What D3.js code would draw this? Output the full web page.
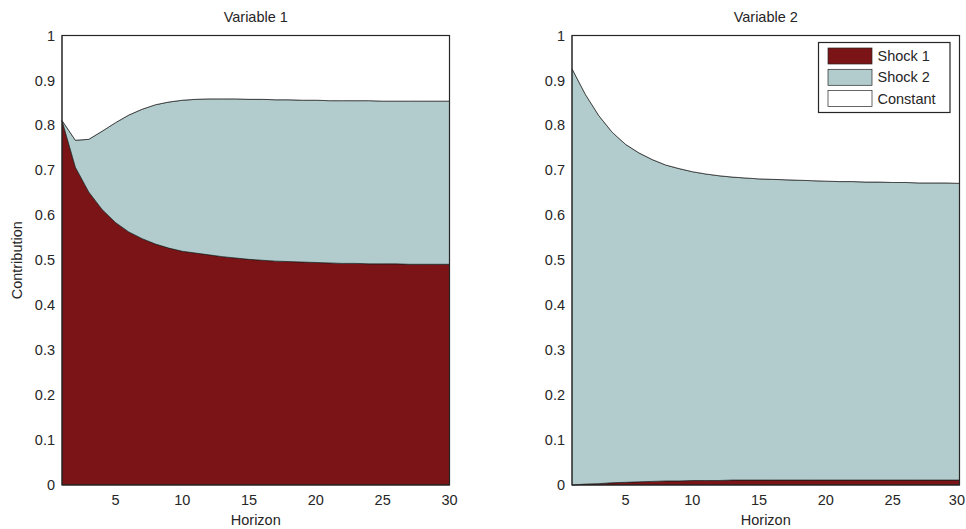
<!DOCTYPE html>
<html>
<head>
<meta charset="utf-8">
<script src="https://cdn.jsdelivr.net/npm/d3@7"></script>
<style>
  body { margin: 0; background: #fff; }
  text { font-family: "Liberation Sans", Arial, sans-serif; fill: #262626; font-size: 14.5px; }
</style>
</head>
<body>
<svg id="chart" width="966" height="529"></svg>
<script>
// horizons 1..30
var horizon = d3.range(1, 31);

// Variable 1 contributions
var v1_shock1 = [0.811, 0.707, 0.652, 0.613, 0.584, 0.563, 0.548, 0.536, 0.527, 0.520,
                 0.516, 0.512, 0.508, 0.505, 0.502, 0.500, 0.498, 0.497, 0.496, 0.495,
                 0.494, 0.493, 0.493, 0.492, 0.492, 0.492, 0.491, 0.491, 0.491, 0.491];
var v1_shock2 = [0.000, 0.060, 0.117, 0.174, 0.222, 0.260, 0.288, 0.310, 0.325, 0.336,
                 0.342, 0.347, 0.351, 0.354, 0.356, 0.358, 0.359, 0.360, 0.360, 0.361,
                 0.361, 0.362, 0.362, 0.363, 0.362, 0.362, 0.363, 0.363, 0.363, 0.363];
var v1_const  = [0.189, 0.233, 0.231, 0.213, 0.194, 0.177, 0.164, 0.154, 0.148, 0.144,
                 0.142, 0.141, 0.141, 0.141, 0.142, 0.142, 0.143, 0.143, 0.144, 0.144,
                 0.145, 0.145, 0.145, 0.145, 0.146, 0.146, 0.146, 0.146, 0.146, 0.146];

// Variable 2 contributions
var v2_shock1 = [0.000, 0.002, 0.003, 0.005, 0.006, 0.007, 0.008, 0.009, 0.009, 0.010,
                 0.010, 0.010, 0.011, 0.011, 0.011, 0.011, 0.011, 0.011, 0.011, 0.011,
                 0.011, 0.011, 0.011, 0.011, 0.011, 0.011, 0.011, 0.011, 0.011, 0.011];
var v2_shock2 = [0.926, 0.867, 0.819, 0.780, 0.752, 0.732, 0.716, 0.703, 0.695, 0.687,
                 0.682, 0.678, 0.674, 0.672, 0.670, 0.669, 0.668, 0.667, 0.666, 0.665,
                 0.664, 0.664, 0.663, 0.663, 0.662, 0.662, 0.661, 0.661, 0.661, 0.660];
var v2_const  = [0.074, 0.131, 0.178, 0.215, 0.242, 0.261, 0.276, 0.288, 0.296, 0.303,
                 0.308, 0.312, 0.315, 0.317, 0.319, 0.320, 0.321, 0.322, 0.323, 0.324,
                 0.325, 0.325, 0.326, 0.326, 0.327, 0.327, 0.328, 0.328, 0.328, 0.329];

var seriesNames = ["Shock 1", "Shock 2", "Constant"];
var colors = ["#7b1416", "#b2cccd", "#ffffff"];
var yTicks = [0, 0.1, 0.2, 0.3, 0.4, 0.5, 0.6, 0.7, 0.8, 0.9, 1];
var xTicks = [5, 10, 15, 20, 25, 30];

var panels = [
  { title: "Variable 1", left: 62, series: [v1_shock1, v1_shock2, v1_const], ylabel: true, legend: false },
  { title: "Variable 2", left: 572, series: [v2_shock1, v2_shock2, v2_const], ylabel: false, legend: true }
];

var marginTop = 35.5, height = 449.5, width = 387.5;
var svgWidth = 966;
var svg = d3.select("#chart");

panels.forEach(function (p) {
  var g = svg.append("g").attr("transform", "translate(" + p.left + "," + marginTop + ")");

  var x = d3.scaleLinear().domain([1, 30]).range([0, width]);
  var y = d3.scaleLinear().domain([0, 1]).range([height, 0]);

  // build table for stacking
  var table = horizon.map(function (h, i) {
    var row = { h: h };
    seriesNames.forEach(function (s, k) { row[s] = p.series[k][i]; });
    return row;
  });
  var stacked = d3.stack().keys(seriesNames)(table);

  var area = d3.area()
    .x(function (d) { return x(d.data.h); })
    .y0(function (d) { return y(d[0]); })
    .y1(function (d) { return y(d[1]); });

  g.selectAll("path.layer")
    .data(stacked)
    .enter()
    .append("path")
    .attr("class", "layer")
    .attr("d", area)
    .attr("fill", function (d, i) { return colors[i]; })
    .attr("stroke", "#1a1a1a")
    .attr("stroke-width", 0.7)
    .attr("stroke-linejoin", "round");

  // axes box
  g.append("rect")
    .attr("width", width).attr("height", height)
    .attr("fill", "none")
    .attr("stroke", "#262626")
    .attr("stroke-width", 1.2);

  // y tick labels
  g.selectAll("text.ytick")
    .data(yTicks)
    .enter()
    .append("text")
    .attr("class", "ytick")
    .attr("x", -7)
    .attr("y", function (d) { return y(d); })
    .attr("dy", "0.35em")
    .attr("text-anchor", "end")
    .text(function (d) { return d3.format("~g")(d); });

  // x tick labels
  g.selectAll("text.xtick")
    .data(xTicks)
    .enter()
    .append("text")
    .attr("class", "xtick")
    .attr("x", function (d) { return x(d); })
    .attr("y", height + 15)
    .attr("dy", "0.35em")
    .attr("text-anchor", "middle")
    .text(function (d) { return d; })
    .each(function (d) {
      // keep the last label inside the page
      var half = this.getComputedTextLength() / 2;
      var maxX = svgWidth - 1 - p.left - half;
      if (x(d) > maxX) d3.select(this).attr("x", maxX);
    });

  g.append("text")
    .attr("x", width / 2)
    .attr("y", height + 35)
    .attr("dy", "0.35em")
    .attr("text-anchor", "middle")
    .text("Horizon");

  g.append("text")
    .attr("x", width / 2)
    .attr("y", -19)
    .attr("dy", "0.35em")
    .attr("text-anchor", "middle")
    .text(p.title);

  if (p.ylabel) {
    g.append("text")
      .attr("transform", "translate(-45," + (y(0.5)) + ") rotate(-90)")
      .attr("text-anchor", "middle")
      .attr("dy", "0.35em")
      .text("Contribution");
  }

  if (p.legend) {
    var lg = g.append("g").attr("transform", "translate(" + (818.5 - p.left) + "," + (42.5 - marginTop) + ")");
    lg.append("rect")
      .attr("width", 131.5).attr("height", 70)
      .attr("fill", "#fff")
      .attr("stroke", "#262626")
      .attr("stroke-width", 1.2);
    var items = lg.selectAll("g.item")
      .data(seriesNames)
      .enter()
      .append("g")
      .attr("class", "item")
      .attr("transform", function (d, i) { return "translate(9.5," + (5.5 + i * 21.3) + ")"; });
    items.append("rect")
      .attr("width", 44).attr("height", 16)
      .attr("fill", function (d, i) { return colors[i]; })
      .attr("stroke", "#262626")
      .attr("stroke-width", 0.7);
    items.append("text")
      .attr("x", 49.5)
      .attr("y", 8)
      .attr("dy", "0.35em")
      .text(function (d) { return d; });
  }
});
</script>
</body>
</html>
